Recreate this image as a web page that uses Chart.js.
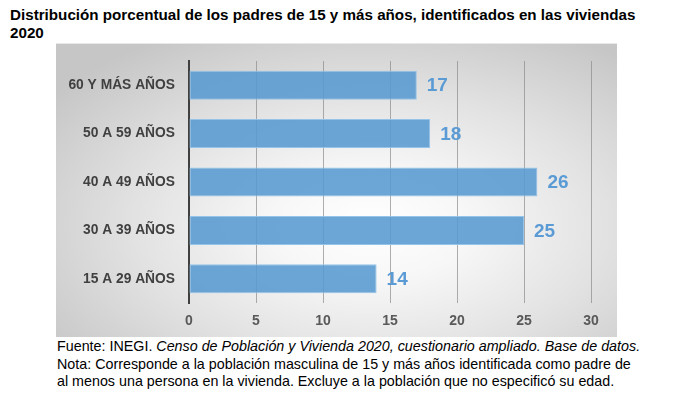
<!DOCTYPE html>
<html>
<head>
<meta charset="utf-8">
<script src="https://cdn.jsdelivr.net/npm/chart.js@4/dist/chart.umd.min.js"></script>
<style>
  html, body { margin: 0; padding: 0; background: #fff; width: 674px; height: 399px; overflow: hidden; }
  #title { position: absolute; left: 10px; top: 6px; font-family: "Liberation Sans", Arial, sans-serif; font-weight: bold; font-size: 15.2px; line-height: 18px; color: #000; white-space: nowrap; }
  #panel { position: absolute; left: 56px; top: 43px; width: 561px; height: 294px;
    background: radial-gradient(ellipse 70% 75% at 56% 62%, #ffffff 0%, #f7f7f7 25%, #e2e2e2 60%, #c6c6c6 100%);
    box-shadow: inset 0 1px 0 #e8e8e8; }
  #chartWrap { position: absolute; left: 0; top: 0; width: 561px; height: 294px; }
  #foot { position: absolute; left: 57px; top: 338px; font-family: "Liberation Sans", Arial, sans-serif; font-size: 14.3px; line-height: 17.5px; color: #000; white-space: nowrap; }
</style>
</head>
<body>
<div id="title">Distribución porcentual de los padres de 15 y más años, identificados en las viviendas<br>2020</div>
<div id="panel"><div id="chartWrap"><canvas id="c" width="561" height="294"></canvas></div></div>
<div id="foot">Fuente: INEGI. <i>Censo de Población y Vivienda 2020, cuestionario ampliado. Base de datos.</i><br>Nota: Corresponde a la población masculina de 15 y más años identificada como padre de<br>al menos una persona en la vivienda. Excluye a la población que no especificó su edad.</div>
<script>
const categories = ["60 Y MÁS AÑOS", "50 A 59 AÑOS", "40 A 49 AÑOS", "30 A 39 AÑOS", "15 A 29 AÑOS"];
const values = [17, 18, 26, 25, 14];
const xTicks = [0, 5, 10, 15, 20, 25, 30];

const valueLabels = {
  id: 'valueLabels',
  afterDatasetsDraw(chart) {
    const ctx = chart.ctx;
    const meta = chart.getDatasetMeta(0);
    const xs = chart.scales.x;
    ctx.save();
    ctx.font = 'bold 19px "Liberation Sans", Arial, sans-serif';
    ctx.fillStyle = '#5b9bd5';
    ctx.textAlign = 'left';
    ctx.textBaseline = 'middle';
    meta.data.forEach((bar, i) => {
      const v = chart.data.datasets[0].data[i];
      ctx.fillText(String(v), xs.getPixelForValue(v) + 10, bar.y + 1);
    });
    ctx.restore();
  }
};

new Chart(document.getElementById('c'), {
  type: 'bar',
  data: {
    labels: categories,
    datasets: [{
      data: values,
      backgroundColor: 'rgba(86,154,210,0.88)',
      borderColor: 'rgba(150,195,232,1)',
      borderWidth: 1,
      borderSkipped: false,
      categoryPercentage: 0.6,
      barPercentage: 1.0
    }]
  },
  options: {
    indexAxis: 'y',
    responsive: false,
    animation: false,
    devicePixelRatio: 1,
    layout: { padding: { left: 0, right: 26, top: 18, bottom: 0 } },
    plugins: { legend: { display: false }, tooltip: { enabled: false } },
    scales: {
      x: {
        min: 0, max: 30,
        afterBuildTicks(scale) { scale.ticks = xTicks.map(v => ({ value: v })); },
        afterFit(scale) { scale.height = 34; scale.paddingLeft = 0; scale.paddingRight = 0; },
        grid: { display: true, color: 'rgba(140,140,140,0.7)', lineWidth: 1, drawTicks: false },
        border: { display: false },
        ticks: { padding: 10, color: '#595959', font: { family: '"Liberation Sans", Arial, sans-serif', size: 14, weight: 'bold' } }
      },
      y: {
        afterFit(scale) { scale.width = 133; scale.paddingTop = 0; scale.paddingBottom = 0; },
        grid: { display: false, drawTicks: false },
        border: { display: true, color: '#404040', width: 2 },
        ticks: { padding: 14, color: '#404040', font: { family: '"Liberation Sans", Arial, sans-serif', size: 13.8, weight: 'bold' } }
      }
    }
  },
  plugins: [valueLabels]
});
</script>
</body>
</html>
